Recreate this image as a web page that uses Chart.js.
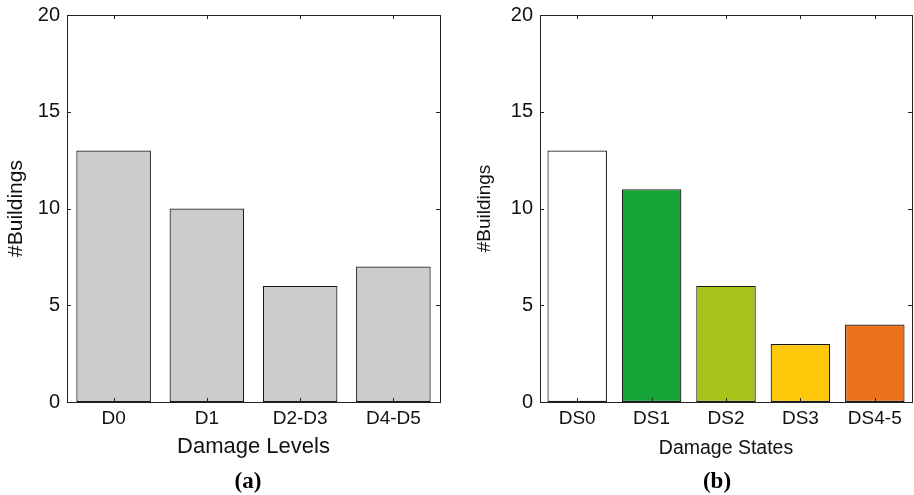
<!DOCTYPE html>
<html>
<head>
<meta charset="utf-8">
<script src="https://cdn.jsdelivr.net/npm/chart.js@4"></script>
<style>
  html, body { margin: 0; padding: 0; background: #fff; }
  #wrap { position: relative; width: 914px; height: 495px; }
  .panel { position: absolute; top: 0; width: 457px; height: 495px; }
  .cap { position: absolute; top: 467px; width: 80px; text-align: center;
         font: bold 23px "Liberation Serif", serif; color: #000; line-height: 28px; }
</style>
</head>
<body>
<div id="wrap">
  <div class="panel" style="left:0"><canvas id="levels"></canvas></div>
  <div class="panel" style="left:457px"><canvas id="states"></canvas></div>
  <div class="cap" style="left:208px">(a)</div>
  <div class="cap" style="left:677px">(b)</div>
</div>
<script>
// panel (a)
var levelLabels = ['D0', 'D1', 'D2-D3', 'D4-D5'];
var levelCounts = [13, 10, 6, 7];
var levelColors = ['#cccccc', '#cccccc', '#cccccc', '#cccccc'];

// panel (b)
var stateLabels = ['DS0', 'DS1', 'DS2', 'DS3', 'DS4-5'];
var stateCounts = [13, 11, 6, 3, 4];
var stateColors = ['#ffffff', '#14a334', '#a8c41a', '#ffc80a', '#ee711c'];

var yTicks = [0, 5, 10, 15, 20];

// box around the plot with the little inward ticks on all four sides
var boxPlugin = {
  id: 'box',
  afterDatasetsDraw: function(chart) {
    var ctx = chart.ctx, a = chart.chartArea;
    var x = chart.scales.x, y = chart.scales.y;
    var len = 4;
    ctx.save();
    ctx.strokeStyle = '#222';
    ctx.lineWidth = 1;
    ctx.beginPath();
    y.ticks.forEach(function(t, i) {
      var py = Math.round(y.getPixelForTick(i)) + 0.5;
      ctx.moveTo(a.left, py); ctx.lineTo(a.left + len, py);
      ctx.moveTo(a.right, py); ctx.lineTo(a.right - len, py);
    });
    x.ticks.forEach(function(t, i) {
      var px = Math.round(x.getPixelForTick(i)) + 0.5;
      ctx.moveTo(px, a.top); ctx.lineTo(px, a.top + len);
      ctx.moveTo(px, a.bottom); ctx.lineTo(px, a.bottom - len);
    });
    ctx.stroke();
    ctx.strokeRect(Math.round(a.left) + 0.5, Math.round(a.top) + 0.5,
                   Math.round(a.right - a.left), Math.round(a.bottom - a.top));
    ctx.restore();
  }
};

function makeChart(id, labels, values, colors, xTitle, s) {
  var el = document.getElementById(id);
  el.width = 457;
  el.height = 495;
  return new Chart(el, {
    type: 'bar',
    plugins: [boxPlugin],
    data: {
      labels: labels,
      datasets: [{
        data: values,
        backgroundColor: colors,
        borderColor: '#1a1a1a',
        borderWidth: 1.2,
        borderSkipped: false,
        categoryPercentage: 1.0,
        barPercentage: 0.8
      }]
    },
    options: {
      responsive: false,
      animation: false,
      layout: { padding: { left: 0, right: s.padRight, top: 15, bottom: 35 } },
      plugins: {
        legend: { display: false },
        tooltip: { enabled: false }
      },
      scales: {
        x: {
          grid: { display: false, drawTicks: false },
          border: { display: false },
          ticks: { color: '#111', padding: 5, maxRotation: 0,
                   font: { family: 'Liberation Sans', size: 19 } },
          title: { display: true, text: xTitle, color: '#111',
                   font: { family: 'Liberation Sans', size: s.xTitleSize },
                   padding: { top: 0, bottom: 0 } },
          afterFit: function(sc) { sc.height = 58; sc.paddingLeft = 0; sc.paddingRight = 0; }
        },
        y: {
          min: 0, max: 20,
          grid: { display: false, drawTicks: false },
          border: { display: false },
          afterBuildTicks: function(sc) { sc.ticks = yTicks.map(function(v) { return { value: v }; }); },
          ticks: { color: '#111', padding: 7,
                   font: { family: 'Liberation Sans', size: 20 } },
          title: { display: true, text: '#Buildings', color: '#111',
                   font: { family: 'Liberation Sans', size: s.yTitleSize },
                   padding: { top: s.yTitleOff, bottom: 0 } },
          afterFit: function(sc) { sc.width = s.yWidth; sc.paddingTop = 0; sc.paddingBottom = 0; }
        }
      }
    }
  });
}

makeChart('levels', levelLabels, levelCounts, levelColors, 'Damage Levels',
  { padRight: 17, yWidth: 67, xTitleSize: 22, yTitleSize: 21, yTitleOff: 4 });
makeChart('states', stateLabels, stateCounts, stateColors, 'Damage States',
  { padRight: 2, yWidth: 83, xTitleSize: 19.5, yTitleSize: 19, yTitleOff: 16 });
</script>
</body>
</html>
